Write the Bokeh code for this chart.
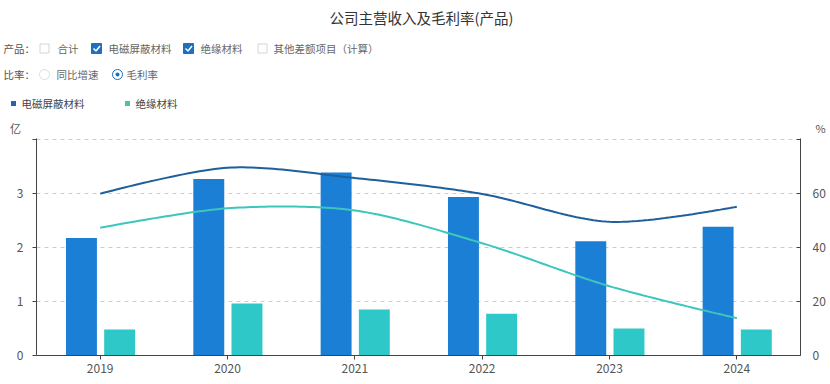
from bokeh.plotting import figure
from bokeh.models import Range1d, LinearAxis, FixedTicker, Grid, Label
from bokeh.layouts import column
from bokeh.embed import file_html
from bokeh.resources import INLINE

years = ["2019", "2020", "2021", "2022", "2023", "2024"]
emi_rev = [2.17, 3.26, 3.38, 2.93, 2.11, 2.38]      # 电磁屏蔽材料 收入 (亿)
ins_rev = [0.48, 0.96, 0.85, 0.77, 0.50, 0.48]      # 绝缘材料 收入 (亿)
emi_margin = [59.8, 69.4, 65.6, 59.7, 49.4, 55.0]   # 电磁屏蔽材料 毛利率 (%)
ins_margin = [47.2, 54.4, 53.6, 41.5, 25.6, 13.8]   # 绝缘材料 毛利率 (%)
left_ticks = [0, 1, 2, 3, 4]
right_ticks = [0, 20, 40, 60, 80]

FONT = "Noto Sans CJK SC"
BLUE = "#1b7fd5"
TEAL = "#2ec8c8"
LINE_BLUE = "#1f5f9e"
LINE_TEAL = "#3cc6bd"
CHECK = "#1e6fc0"


def smooth_curve(xs, ys, sx=127.5, sy=217.0 / 80.0, smooth=0.3, n=30):
    # ECharts-like smooth bezier through the given points
    pts = list(zip(xs, ys))
    m = len(pts)
    cps = []
    for i in range(m):
        x, y = pts[i]
        px, py = pts[i - 1] if i > 0 else pts[i]
        nx, ny = pts[i + 1] if i < m - 1 else pts[i]
        vx, vy = nx - px, ny - py
        l0 = (((x - px) * sx) ** 2 + ((y - py) * sy) ** 2) ** 0.5
        l1 = (((nx - x) * sx) ** 2 + ((ny - y) * sy) ** 2) ** 0.5
        r = l1 / (l0 + l1) if (l0 + l1) else 0.5
        if i == 0 or i == m - 1:
            cin = (x, y)
            cout = (x, y)
        else:
            cin = (x - vx * smooth * (1 - r), y - vy * smooth * (1 - r))
            cout = (x + vx * smooth * r, y + vy * smooth * r)
        cps.append((cin, cout))
    cx, cy = [], []
    for i in range(m - 1):
        p0 = pts[i]
        p1 = cps[i][1]
        p2 = cps[i + 1][0]
        p3 = pts[i + 1]
        for k in range(n + (1 if i == m - 2 else 0)):
            t = k / n
            a = (1 - t) ** 3
            b = 3 * (1 - t) ** 2 * t
            c = 3 * (1 - t) * t ** 2
            d = t ** 3
            cx.append(a * p0[0] + b * p1[0] + c * p2[0] + d * p3[0])
            cy.append(a * p0[1] + b * p1[1] + c * p2[1] + d * p3[1])
    return cx, cy


W = 828
FL, FR = 36, 801   # main plot frame edges

# ---------------- header (title, controls, legend) ----------------
HH = 136
hdr = figure(width=W, height=HH, x_range=Range1d(0, W), y_range=Range1d(HH, 0),
             x_axis_type=None, y_axis_type=None, output_backend="svg",
             toolbar_location=None, outline_line_color=None)
hdr.min_border_left = 0
hdr.min_border_right = 0
hdr.min_border_top = 0
hdr.min_border_bottom = 0
hdr.frame_align = False


def lab(x, y, text, size="10.5px", color="#666666", align="left"):
    hdr.add_layout(Label(x=x, y=y, text=text, text_font=FONT, text_font_size=size,
                         text_color=color, text_align=align, text_baseline="middle"))


lab(421, 17, "公司主营收入及毛利率(产品)", size="14.5px", color="#333333", align="center")
lab(3, 48, "产品：", color="#555555")
lab(3, 74, "比率：", color="#555555")
for x, t in zip([57, 108, 200, 273], ["合计", "电磁屏蔽材料", "绝缘材料", "其他差额项目（计算）"]):
    lab(x, 48, t)
for x, t in zip([56, 126], ["同比增速", "毛利率"]):
    lab(x, 74, t)
lab(21, 103, "电磁屏蔽材料", color="#444444")
lab(135, 103, "绝缘材料", color="#444444")
lab(15, 127, "亿", size="11px", color="#555555", align="center")
lab(820, 127, "%", size="11px", color="#555555", align="center")

# legend swatches
hdr.rect(x=[13, 127], y=[103, 103], width=5, height=5, fill_color=["#2763a6", "#4cc2a6"],
         line_color=None)

# checkboxes
hdr.rect(x=[44, 262], y=[48, 48], width=9, height=9, fill_color="white",
         line_color="#d4d4d4", line_width=1)
hdr.rect(x=[96, 188], y=[48, 48], width=10, height=10, fill_color=CHECK,
         line_color=CHECK, line_width=1)
hdr.multi_line(xs=[[93, 95.5, 99.5], [185, 187.5, 191.5]],
               ys=[[48, 50.5, 45.5], [48, 50.5, 45.5]], line_color="white", line_width=1.5)
# radios
hdr.circle(x=[44], y=[74], radius=5, fill_color="white", line_color="#dddddd", line_width=1)
hdr.circle(x=[117], y=[74], radius=5, fill_color="white", line_color=CHECK, line_width=1)
hdr.circle(x=[117], y=[74], radius=2, fill_color=CHECK, line_color=None)

# ---------------- main chart ----------------
p = figure(width=W, height=240, x_range=Range1d(0, 6), y_range=Range1d(0, 4.01),
           output_backend="svg", toolbar_location=None, outline_line_color=None,
           x_axis_type=None, y_axis_type=None)
p.min_border_left = FL
p.min_border_right = W - FR
p.min_border_top = 2
p.min_border_bottom = 21
p.frame_align = False
p.extra_y_ranges = {"pct": Range1d(0, 80.2)}

xc = [i + 0.5 for i in range(len(years))]

# axes
xa = LinearAxis(ticker=FixedTicker(ticks=xc),
                major_label_overrides={c: y for c, y in zip(xc, years)})
xa.major_tick_out = 4
xa.major_tick_in = 0
xa.minor_tick_line_color = None
xa.axis_line_color = "#444444"
xa.major_tick_line_color = "#444444"
xa.major_label_standoff = 4
xa.major_label_text_font = FONT
xa.major_label_text_font_size = "12px"
xa.major_label_text_color = "#555555"
p.add_layout(xa, "below")

ya = LinearAxis(ticker=FixedTicker(ticks=left_ticks),
                major_label_overrides={4: ""})
ya.major_tick_out = 4
ya.major_tick_in = 0
ya.minor_tick_line_color = None
ya.axis_line_color = "#444444"
ya.major_tick_line_color = "#444444"
ya.major_label_standoff = 9
ya.major_label_text_font = FONT
ya.major_label_text_font_size = "12px"
ya.major_label_text_color = "#555555"
p.add_layout(ya, "left")

yb = LinearAxis(y_range_name="pct", ticker=FixedTicker(ticks=right_ticks),
                major_label_overrides={80: ""})
yb.major_tick_out = 0
yb.major_tick_in = 4
yb.minor_tick_line_color = None
yb.axis_line_color = "#444444"
yb.major_tick_line_color = "#444444"
yb.major_label_standoff = 12
yb.major_label_text_font = FONT
yb.major_label_text_font_size = "12px"
yb.major_label_text_color = "#555555"
p.add_layout(yb, "right")

g = Grid(dimension=1, ticker=FixedTicker(ticks=left_ticks[1:]))
g.grid_line_color = "#cccccc"
g.grid_line_dash = "4 4"
g.grid_line_width = 1
p.add_layout(g)

# bars
p.vbar(x=[c - 0.147 for c in xc], top=emi_rev, width=0.243, fill_color=BLUE, line_color=None)
p.vbar(x=[c + 0.153 for c in xc], top=ins_rev, width=0.243, fill_color=TEAL, line_color=None)

# smooth margin lines
ex, ey = smooth_curve(xc, emi_margin)
p.line(ex, ey, y_range_name="pct", line_color=LINE_BLUE, line_width=2)
ix, iy = smooth_curve(xc, ins_margin)
p.line(ix, iy, y_range_name="pct", line_color=LINE_TEAL, line_width=2)

layout = column(hdr, p, spacing=0)
open("out.html", "w").write(file_html(layout, INLINE))
